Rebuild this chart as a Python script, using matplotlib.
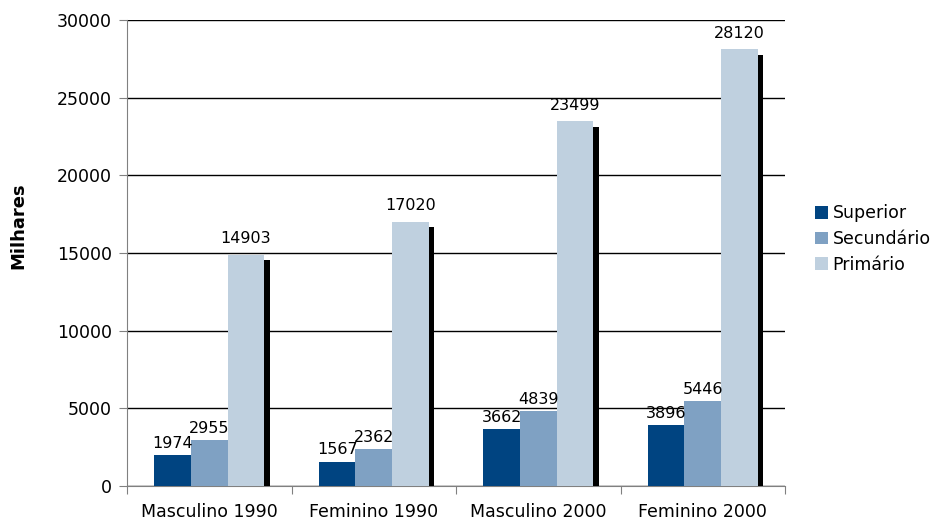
import matplotlib.pyplot as plt
import matplotlib.patheffects as pe
from matplotlib.patches import Patch
import numpy as np

groups = ["Masculino 1990", "Feminino 1990", "Masculino 2000", "Feminino 2000"]
series = ["Superior", "Secundário", "Primário"]
superior = [1974, 1567, 3662, 3896]
secundario = [2955, 2362, 4839, 5446]
primario = [14903, 17020, 23499, 28120]
colors = ["#004481", "#7fa1c3", "#bfd0df"]

fig = plt.figure(figsize=(9.35, 5.22), dpi=100)
ax = fig.add_axes([127 / 935, 36 / 522, 658 / 935, 466 / 522])

x = np.arange(len(groups))
w = 0.222
shadow = [pe.SimplePatchShadow(offset=(4, -4), shadow_rgbFace="black", alpha=1.0), pe.Normal()]

for i, vals in enumerate([superior, secundario, primario]):
    pos = x + (i - 1) * w
    bars = ax.bar(pos, vals, width=w, color=colors[i], zorder=3 + i)
    if i == 2:
        for b in bars:
            b.set_path_effects(shadow)
    for p, v in zip(pos, vals):
        ax.annotate(str(v), (p, v), xytext=(0, 3 if i < 2 else 6), textcoords="offset points",
                    ha="center", va="bottom", fontsize=11.5, zorder=10)

ax.set_xlim(-0.5, len(groups) - 0.5)
ax.set_ylim(0, 30000)
ax.set_yticks(np.arange(0, 30001, 5000))
ax.tick_params(axis="y", labelsize=12.5, length=6, color="#808080", pad=5)
ax.yaxis.grid(True, color="black", linewidth=1)
ax.set_axisbelow(True)

ax.set_xticks(np.arange(-0.5, len(groups)), minor=False)
ax.set_xticklabels([])
ax.set_xticks(x, minor=True)
ax.set_xticklabels(groups, minor=True, fontsize=12.5)
ax.tick_params(axis="x", which="major", length=6, color="#808080")
ax.tick_params(axis="x", which="minor", length=0, pad=12)

for s in ["top", "right"]:
    ax.spines[s].set_visible(False)
for s in ["left", "bottom"]:
    ax.spines[s].set_color("#808080")

ax.set_ylabel("Milhares", fontsize=13, fontweight="bold")
ax.yaxis.set_label_coords(-0.152, 0.558)

handles = [Patch(facecolor=c, label=s) for c, s in zip(colors, series)]
ax.legend(handles=handles, loc="center left", bbox_to_anchor=(1.046, 0.53), frameon=False,
          fontsize=12.5, handlelength=0.75, handleheight=0.75, handletextpad=0.25,
          labelspacing=0.45, borderaxespad=0, borderpad=0)

fig.savefig("out.png", dpi=100)
